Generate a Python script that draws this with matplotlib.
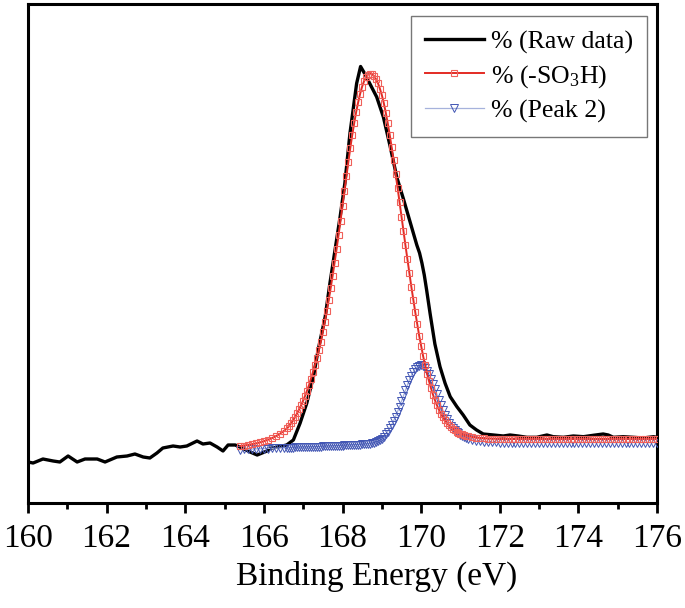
import matplotlib
matplotlib.use('Agg')
import matplotlib.pyplot as plt

plt.rcParams['font.family'] = ['Liberation Serif', 'DejaVu Serif']
plt.rcParams['mathtext.fontset'] = 'custom'
plt.rcParams['mathtext.rm'] = 'Liberation Serif'
plt.rcParams['mathtext.it'] = 'Liberation Serif:italic'

# raw spectrum (binding energy in eV, intensity in a.u.)
raw_energy = [160.00, 160.13, 160.38, 160.64, 160.81, 161.02, 161.25, 161.45, 161.76, 161.96,
              162.26, 162.52, 162.72, 162.93, 163.10, 163.28, 163.43, 163.69, 163.87, 164.04,
              164.30, 164.45, 164.63, 164.81, 164.96, 165.09, 165.27, 165.39, 165.65, 165.83,
              166.08, 166.16, 166.35, 166.58, 166.75, 166.92, 167.09, 167.26, 167.38, 167.56,
              167.68, 167.81, 167.94, 168.06, 168.19, 168.36, 168.46, 168.57, 168.70, 168.87,
              169.04, 169.21, 169.38, 169.55, 169.72, 169.89, 169.96, 170.02, 170.08, 170.14,
              170.23, 170.35, 170.48, 170.61, 170.74, 170.91, 171.07, 171.24, 171.41, 171.58,
              171.84, 172.09, 172.26, 172.47, 172.69, 172.94, 173.20, 173.36, 173.62, 173.87,
              174.13, 174.38, 174.63, 174.76, 174.89, 175.14, 175.40, 175.65, 175.91, 176.00]
raw_counts = [41, 40, 44, 42, 41, 47, 41, 44, 44, 41,
              46, 47, 49, 46, 45, 50, 55, 57, 56, 57,
              62, 59, 60, 56, 52, 58, 58, 56, 51, 48,
              52, 54.7, 56, 58, 63, 79.7, 99.7, 126.3, 153, 186.3,
              219.7, 253, 286.3, 319.7, 369.7, 419.7, 436.5, 429, 419, 406,
              386, 357, 326, 304, 281, 258, 250, 240, 228, 213,
              189, 159, 136.3, 119.7, 106.3, 96.3, 88, 78, 73, 69,
              68, 67, 68, 67, 65.7, 65.7, 68, 66.3, 65.7, 67,
              66.3, 67.7, 69, 68, 65.7, 66.3, 65.7, 65, 66.3, 65.7]

# fitted components, same energy grid
fit_energy = [165.4, 165.5, 165.6, 165.7, 165.8, 165.9, 166.0, 166.1, 166.2, 166.3, 166.4, 166.5, 166.6,
              166.65, 166.70, 166.75, 166.80, 166.85, 166.90, 166.95, 167.00,
              167.05, 167.10, 167.15, 167.20, 167.25, 167.30, 167.35, 167.40, 167.45, 167.50,
              167.55, 167.60, 167.65, 167.70, 167.75, 167.80, 167.85, 167.90, 167.95, 168.00,
              168.05, 168.10, 168.15, 168.20, 168.25, 168.30, 168.35, 168.40, 168.45, 168.50,
              168.55, 168.60, 168.65, 168.70, 168.75, 168.80, 168.85, 168.90, 168.95, 169.00,
              169.05, 169.10, 169.15, 169.20, 169.25, 169.30, 169.35, 169.40, 169.45, 169.50,
              169.55, 169.60, 169.65, 169.70, 169.75, 169.80, 169.85, 169.90, 169.95, 170.00,
              170.05, 170.10, 170.15, 170.20, 170.25, 170.30, 170.35, 170.40, 170.45, 170.50,
              170.55, 170.60, 170.65, 170.70, 170.75, 170.80, 170.85, 170.90, 170.95, 171.00,
              171.05, 171.10, 171.15, 171.20,
              171.3, 171.4, 171.5, 171.6, 171.7, 171.8, 171.9, 172.0, 172.1, 172.2,
              172.3, 172.4, 172.5, 172.6, 172.7, 172.8, 172.9, 173.0, 173.1, 173.2,
              173.3, 173.4, 173.5, 173.6, 173.7, 173.8, 173.9, 174.0, 174.1, 174.2,
              174.3, 174.4, 174.5, 174.6, 174.7, 174.8, 174.9, 175.0, 175.1, 175.2,
              175.3, 175.4, 175.5, 175.6, 175.7, 175.8, 175.9, 176.0]
so3h_fit = [57.0, 57.5, 58.1, 58.8, 59.6, 60.6, 61.8, 63.2, 64.8, 66.7, 69.0, 71.8, 75.0,
            77.5, 80.0, 83.0, 86.3, 89.8, 93.6, 97.8, 102.5,
            107.3, 112.5, 118.0, 124.5, 131.0, 137.8, 145.0, 153.0, 161.5, 171.0,
            181.0, 192.0, 203.0, 215.0, 227.5, 240.5, 254.0, 268.0, 282.5, 297.5,
            312.0, 327.0, 341.5, 355.5, 368.5, 380.5, 391.5, 401.0, 409.5, 416.5,
            422.0, 426.0, 428.5, 429.5, 429.0, 427.0, 424.0, 420.0, 414.5, 408.0,
            400.0, 390.5, 380.0, 368.5, 356.0, 343.0, 329.5, 315.5, 301.0, 286.5,
            272.0, 258.0, 244.0, 230.0, 216.5, 203.5, 191.0, 179.0, 167.5, 157.0,
            147.0, 138.0, 129.5, 122.0, 115.0, 108.5, 103.0, 98.0, 93.5, 89.5,
            86.0, 83.0, 80.3, 78.0, 76.0, 74.3, 72.8, 71.5, 70.4, 69.4,
            68.6, 67.9, 67.3, 66.8,
            66.0, 65.4, 65.0, 64.7, 64.5, 64.4, 64.3, 64.2, 64.2, 64.2,
            64.2, 64.2, 64.2, 64.2, 64.2, 64.2, 64.2, 64.2, 64.2, 64.2,
            64.2, 64.2, 64.2, 64.2, 64.2, 64.2, 64.2, 64.2, 64.2, 64.2,
            64.2, 64.2, 64.2, 64.2, 64.2, 64.2, 64.2, 64.2, 64.2, 64.2,
            64.2, 64.2, 64.2, 64.2, 64.2, 64.2, 64.2, 64.2]
peak2_fit = [53.5, 53.6, 53.8, 53.9, 54.1, 54.2, 54.4, 54.5, 54.7, 54.8, 55.0, 55.1, 55.3,
             55.4, 55.4, 55.5, 55.6, 55.6, 55.7, 55.8, 55.9,
             55.9, 56.0, 56.1, 56.2, 56.2, 56.3, 56.4, 56.5, 56.5, 56.6,
             56.7, 56.8, 56.8, 56.9, 57.0, 57.1, 57.2, 57.3, 57.4, 57.5,
             57.6, 57.7, 57.8, 57.9, 58.0, 58.1, 58.2, 58.3, 58.5, 58.6,
             58.8, 59.0, 59.2, 59.5, 59.9, 60.4, 61.0, 61.8, 62.9, 64.4,
             66.5, 68.8, 71.5, 74.6, 78.1, 82.1, 86.5, 91.3, 96.4, 101.7,
             107.2, 112.6, 117.9, 122.9, 127.3, 131.1, 134.1, 136.2, 137.5, 138.0,
             137.3, 135.3, 132.4, 128.7, 124.4, 119.4, 114.2, 108.8, 103.4, 98.1,
             93.1, 88.3, 83.9, 80.0, 77.2, 75.0, 73.0, 71.2, 69.6, 68.1,
             66.8, 65.8, 64.9, 64.1,
             63.0, 62.2, 61.7, 61.3, 61.0, 60.8, 60.6, 60.5, 60.5, 60.5,
             60.5, 60.5, 60.5, 60.5, 60.5, 60.5, 60.5, 60.5, 60.5, 60.5,
             60.5, 60.5, 60.5, 60.5, 60.5, 60.5, 60.5, 60.5, 60.5, 60.5,
             60.5, 60.5, 60.5, 60.5, 60.5, 60.5, 60.5, 60.5, 60.5, 60.5,
             60.5, 60.5, 60.5, 60.5, 60.5, 60.5, 60.5, 60.5]

fig = plt.figure(figsize=(6.85, 6.08), dpi=100)
ax = fig.add_axes([28 / 685, 1 - 503 / 608, 629 / 685, 499 / 608])

ax.plot(raw_energy, raw_counts, color='black', lw=2.4, zorder=2, label='% (Raw data)')
ax.plot(fit_energy, so3h_fit, color='#e32b24', lw=1.4, marker='s', ms=4.8,
        mfc='none', mec='#f0605a', mew=0.8, zorder=4, label=r'% (-SO$_\mathregular{3}$H)')
ax.plot(fit_energy, peak2_fit, color='#a6b2dc', lw=0.9, marker='v', ms=5.6,
        mfc='none', mec='#4256b4', mew=0.7, zorder=3, label='% (Peak 2)')

ax.set_xlim(160, 176)
ax.set_ylim(0, 499)
ax.set_xticks(range(160, 177, 2))
ax.set_xticks(range(161, 176, 2), minor=True)
ax.set_yticks([])
ax.tick_params(axis='x', which='major', length=7.5, width=2, labelsize=24, pad=7)
ax.tick_params(axis='x', which='minor', length=4.5, width=2)
for sp in ax.spines.values():
    sp.set_linewidth(2.2)

ax.set_xlabel('Binding Energy (eV)', fontsize=24)
ax.xaxis.set_label_coords(0.555, -0.115)

leg = ax.legend(loc='upper right', bbox_to_anchor=(0.984, 0.976), borderaxespad=0,
                fontsize=18.6, handlelength=2.3, handletextpad=0.25, labelspacing=0.36,
                borderpad=0.55, fancybox=False, framealpha=1)
leg.get_frame().set_edgecolor('#777777')
leg.get_frame().set_linewidth(1.0)

fig.savefig('out.png', dpi=100)
